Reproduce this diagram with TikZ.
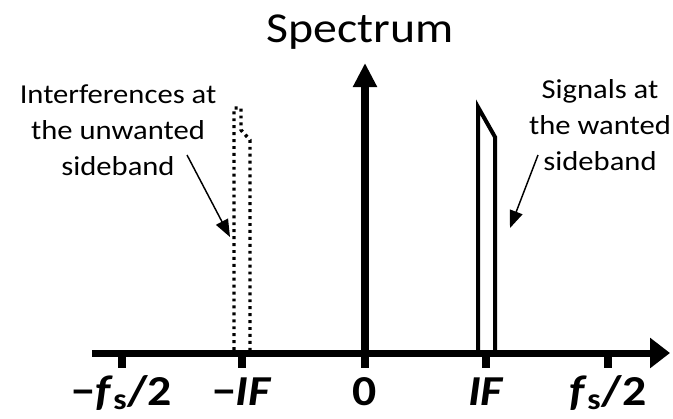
\documentclass[tikz,border=0pt]{standalone}
\usepackage{fontspec}
\setmainfont{Carlito}[FakeStretch=1.12]
\usepackage{tikz}
\usetikzlibrary{arrows.meta,positioning}

\begin{document}
\begin{tikzpicture}[x=0.75pt, y=-0.75pt,
  lbl/.style={align=center, inner sep=0pt, font=\fontsize{20.5}{27}\selectfont},
  ticklbl/.style={anchor=base, inner sep=0pt, font=\fontsize{32}{38}\selectfont\bfseries},
  faxis/.style={line width=5.25pt, -{Triangle[length=15pt,width=22pt]}},
  tickmark/.style={line width=6pt},
  band/.style={line width=3pt, line join=miter},
  note/.style={line width=1.1pt, -{Triangle[length=13pt,width=10pt]}}]
  \useasboundingbox (0,0) rectangle (673,418);

  \node[anchor=base, inner sep=0pt, font=\fontsize{32}{38}\selectfont] (title) at (360,42) {Spectrum};

  % frequency axis and the DC arrow
  \coordinate (xl) at (92,353);
  \coordinate (xr) at (670,353);
  \draw[faxis] (xl) -- (xr);
  \coordinate (o) at (365,353);
  \coordinate (otop) at (365,63);
  \draw[line width=6pt, -{Triangle[length=18pt,width=17pt]}] (o) -- (otop);

  \foreach \x/\nm/\txt in {122/fsneg/{−\textit{f}\textsubscript{s}/2}, 242/ifneg/{−\textit{IF}},
      365/zero/{0}, 486/ifpos/{\textit{IF}}, 608/fspos/{\textit{f}\textsubscript{s}/2}} {
    \draw[tickmark] (\x,353) -- (\x,368);
    \node[ticklbl] (t-\nm) at (\x,405) {\txt};
  }

  % image band (dotted) and wanted band
  \draw[band, line width=2.6pt, dash pattern=on 2.2pt off 3pt] (234,350) -- (234,108) -- (241,108) -- (241,130) -- (250,140) -- (250,350);
  \draw[band] (478,353) -- (478,107) -- (495,137) -- (495,353);

  \node[lbl, anchor=base] (unwanted) at (118,175) {Interferences at\\the unwanted\\sideband};
  \node[lbl, anchor=base] (wanted) at (600,170) {Signals at\\the wanted\\sideband};

  \coordinate (ufrom) at (187,155);
  \coordinate (uto) at (230,237);
  \draw[note] (ufrom) -- (uto);
  \coordinate (wfrom) at (538,155);
  \coordinate (wto) at (510,228);
  \draw[note] (wfrom) -- (wto);
\end{tikzpicture}
\end{document}
